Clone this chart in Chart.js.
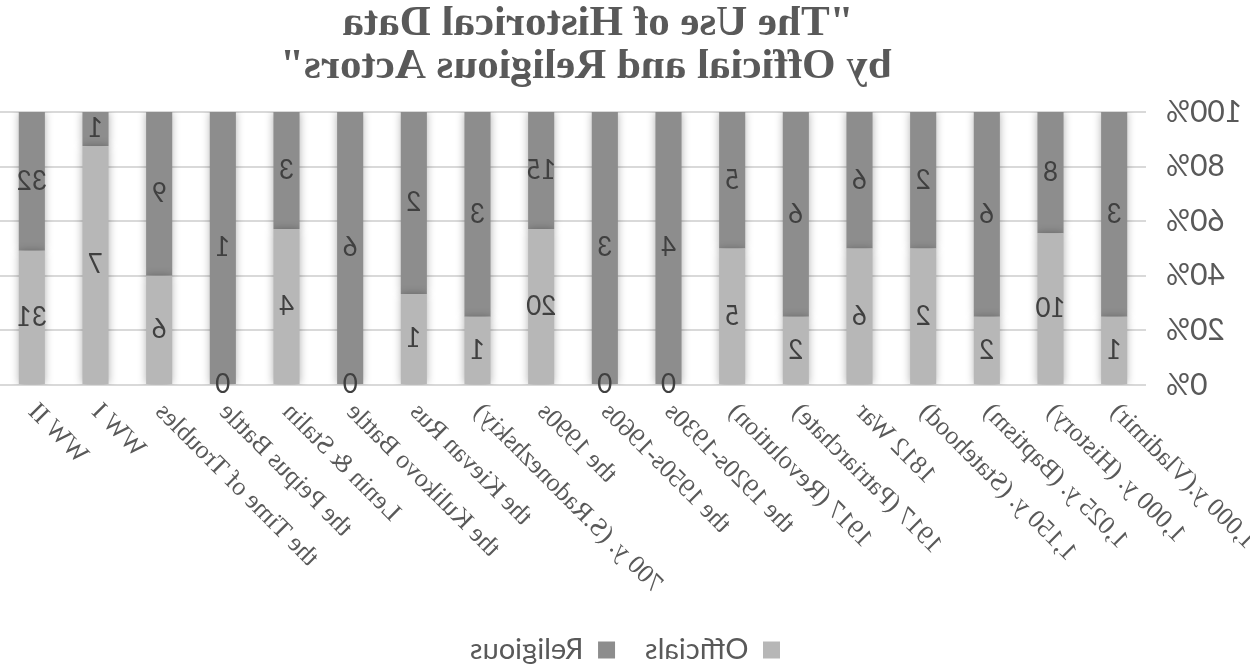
<!DOCTYPE html>
<html>
<head>
<meta charset="utf-8">
<script src="https://cdn.jsdelivr.net/npm/chart.js@4/dist/chart.umd.min.js"></script>
<style>
html,body{margin:0;padding:0;background:#fff;}
#wrap{width:1250px;height:665px;position:relative;}
#c{display:block;transform:scaleX(-1);}
</style>
</head>
<body>
<div id="wrap"><canvas id="c" width="1250" height="665"></canvas></div>
<script>
const categories = ["1,000 y.(Vladimir)", "1,000 y. (History)", "1,025 y. (Baptism)", "1,150 y. (Statehood)", "1812 War", "1917 (Patriarchate)", "1917 (Revolution)", "the 1920s-1930s", "the 1950s-1960s", "the 1990s", "700 y. (S.Radonezhskiy)", "the Kievan Rus", "the Kulikovo Battle", "Lenin & Stalin", "the Peipus Battle", "the Time of Troubles", "WW I", "WW II"];
const officials = [1, 10, 2, 2, 6, 2, 5, 0, 0, 20, 1, 1, 0, 4, 0, 6, 7, 31];
const religious = [3, 8, 6, 2, 6, 6, 5, 4, 3, 15, 3, 2, 6, 3, 1, 9, 1, 32];
const yTicks = [0, 20, 40, 60, 80, 100];
const titleLines = ['"The Use of Historical Data', 'by Official and Religious Actors"'];

const totals = categories.map((_, i) => officials[i] + religious[i]);
const offPct = officials.map((v, i) => v / totals[i] * 100);
const relPct = religious.map((v, i) => v / totals[i] * 100);
const rawValues = [officials, religious];

const PLOT_TOP = 112, PLOT_BOTTOM = 385, PLOT_LEFT = 104, LEGEND_H = 59.5;

const shadowPlugin = {
  id: 'barShadow',
  beforeDatasetsDraw(chart) {
    const ctx = chart.ctx;
    ctx.save();
    ctx.shadowColor = 'rgba(0,0,0,0.3)';
    ctx.shadowBlur = 8;
    ctx.shadowOffsetX = 0;
    ctx.shadowOffsetY = 0;
  },
  afterDatasetsDraw(chart) {
    chart.ctx.restore();
  }
};

const labelPlugin = {
  id: 'segLabels',
  afterDatasetsDraw(chart) {
    const ctx = chart.ctx;
    ctx.save();
    ctx.font = '26px Lato, "Open Sans", sans-serif';
    ctx.fillStyle = '#404040';
    ctx.textAlign = 'center';
    ctx.textBaseline = 'middle';
    chart.data.datasets.forEach((ds, di) => {
      const meta = chart.getDatasetMeta(di);
      meta.data.forEach((el, i) => {
        const cy = (el.y + el.base) / 2;
        ctx.fillText(String(rawValues[di][i]), el.x, cy);
      });
    });
    ctx.restore();
  }
};

const titlePlugin = {
  id: 'customTitle',
  afterDraw(chart) {
    const ctx = chart.ctx;
    ctx.save();
    ctx.font = 'bold 43px "Liberation Serif", serif';
    ctx.fillStyle = '#595959';
    ctx.textAlign = 'center';
    ctx.textBaseline = 'alphabetic';
    ctx.fillText(titleLines[0], 652, 35);
    ctx.fillText(titleLines[1], 664, 78);
    ctx.restore();
  }
};

const legendFitPlugin = {
  id: 'legendFit',
  beforeLayout(chart) {
    const lg = chart.legend;
    if (lg && !lg._patched) {
      const orig = lg.fit.bind(lg);
      lg.fit = function () { orig(); this.height = LEGEND_H; };
      lg._patched = true;
    }
  }
};

new Chart(document.getElementById('c'), {
  type: 'bar',
  data: {
    labels: categories,
    datasets: [
      { label: 'Officials', data: offPct, backgroundColor: '#b7b7b7', borderWidth: 0 },
      { label: 'Religious', data: relPct, backgroundColor: '#8d8d8d', borderWidth: 0 }
    ]
  },
  options: {
    responsive: false,
    animation: false,
    devicePixelRatio: 1,
    layout: { padding: { left: 0, right: 0, top: PLOT_TOP, bottom: 0 } },
    datasets: { bar: { categoryPercentage: 1, barPercentage: 0.41 } },
    plugins: {
      title: { display: false },
      legend: {
        position: 'bottom',
        labels: {
          boxWidth: 17, boxHeight: 17,
          color: '#595959',
          font: { family: 'Lato, "Open Sans", sans-serif', size: 29 },
          padding: 30
        }
      },
      tooltip: { enabled: false }
    },
    scales: {
      x: {
        stacked: true,
        grid: { display: false },
        border: { display: false },
        ticks: {
          autoSkip: false, maxRotation: 45, minRotation: 45,
          color: '#595959',
          font: { family: '"Liberation Serif", serif', size: 26 },
          padding: 4
        },
        afterFit(s) {
          s.height = 665 - PLOT_BOTTOM - LEGEND_H;
          s.paddingLeft = 0;
          s.paddingRight = 0;
        }
      },
      y: {
        stacked: true,
        min: 0, max: 100,
        afterBuildTicks(s) { s.ticks = yTicks.map(v => ({ value: v })); },
        grid: { color: '#d9d9d9', lineWidth: 2, drawTicks: false },
        border: { display: false },
        ticks: {
          color: '#595959',
          font: { family: 'Lato, "Open Sans", sans-serif', size: 30 },
          padding: 20,
          callback: v => v + '%'
        },
        afterFit(s) { s.width = PLOT_LEFT; }
      }
    }
  },
  plugins: [legendFitPlugin, shadowPlugin, labelPlugin, titlePlugin]
});
</script>
</body>
</html>
